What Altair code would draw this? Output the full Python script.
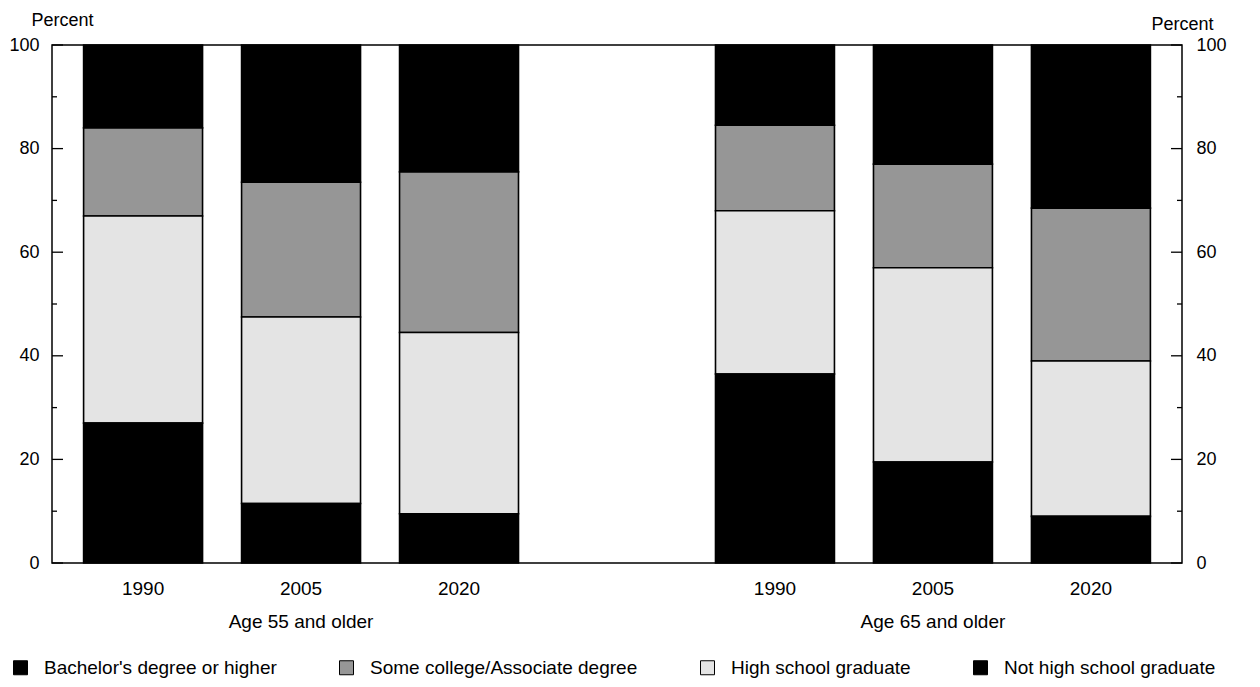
import altair as alt
import pandas as pd

# ---------------- data ----------------
groups = ["Age 55 and older", "Age 65 and older"]
years = ["1990", "2005", "2020"]
levels = [
    "Bachelor's degree or higher",
    "Some college/Associate degree",
    "High school graduate",
    "Not high school graduate",
]
# one value per bar: 55+ 1990, 2005, 2020, 65+ 1990, 2005, 2020
bachelor = [16.0, 26.5, 24.5, 15.5, 23.0, 31.5]
some_college = [17.0, 26.0, 31.0, 16.5, 20.0, 29.5]
high_school = [40.0, 36.0, 35.0, 31.5, 37.5, 30.0]
not_hs = [27.0, 11.5, 9.5, 36.5, 19.5, 9.0]

major_ticks = [0, 20, 40, 60, 80, 100]
minor_ticks = [10, 30, 50, 70, 90]

colors = ["#000000", "#969696", "#e4e4e4", "#000000"]
FONT = "Liberation Sans"

# ---------------- tables ----------------
series = [bachelor, some_college, high_school, not_hs]
keys = [f"{g}|{y}" for g in groups for y in years]
rows = []
for li, (lvl, vals) in enumerate(zip(levels, series)):
    for k, v in zip(keys, vals):
        rows.append({"slot": k, "level": lvl, "value": v,
                     "stack_idx": len(levels) - 1 - li})
df = pd.DataFrame(rows)

domain = keys[:3] + ["gap"] + keys[3:]
df_groups = pd.DataFrame({"group": groups,
                          "slot": [f"{g}|{years[1]}" for g in groups]})
df_major = pd.DataFrame({"tick": major_ticks})
df_minor = pd.DataFrame({"tick": minor_ticks})

W, H = 1130, 518

xscale = alt.Scale(domain=domain, paddingInner=0.247, paddingOuter=0.2)
yscale = alt.Scale(domain=[0, 100], nice=False, zero=True)
xaxis = alt.Axis(title=None, ticks=False, domain=False, grid=False,
                 labelExpr="datum.label == 'gap' ? '' : split(datum.label, '|')[1]",
                 labelAngle=0, labelFontSize=19, labelFont=FONT,
                 labelColor="black", labelPadding=16)

bars = alt.Chart(df).mark_bar(stroke="black", strokeWidth=1.6).encode(
    x=alt.X("slot:N", scale=xscale, sort=domain, axis=xaxis),
    y=alt.Y("value:Q", stack="zero", scale=yscale,
            axis=alt.Axis(values=major_ticks, ticks=False, domain=False, grid=False,
                          title="Percent", titleAngle=0, titleAlign="center",
                          titleX=10, titleY=-16, titleFontSize=18,
                          titleFontWeight="normal", titleFont=FONT,
                          titleColor="black", labelFontSize=18, labelFont=FONT,
                          labelColor="black", labelPadding=13)),
    color=alt.Color("level:N", scale=alt.Scale(domain=levels, range=colors),
                    legend=alt.Legend(orient="none", legendX=-41, legendY=613,
                                      direction="horizontal", columns=4,
                                      columnPadding=60, title=None,
                                      symbolType="square", symbolSize=196,
                                      symbolStrokeColor="black",
                                      symbolStrokeWidth=1, symbolOpacity=1,
                                      labelFontSize=19, labelFont=FONT,
                                      labelColor="black", labelLimit=0,
                                      labelOffset=14)),
    order=alt.Order("stack_idx:Q", sort="ascending"),
)

left_major = alt.Chart(df_major).mark_rule(color="black", strokeWidth=1.3).encode(
    y=alt.Y("tick:Q", scale=yscale, axis=None),
    x=alt.value(0), x2=alt.value(11))
left_minor = alt.Chart(df_minor).mark_rule(color="black", strokeWidth=1.3).encode(
    y=alt.Y("tick:Q", scale=yscale, axis=None),
    x=alt.value(0), x2=alt.value(5))
right_major = alt.Chart(df_major).mark_rule(color="black", strokeWidth=1.3).encode(
    y=alt.Y("tick:Q", scale=yscale,
            axis=alt.Axis(orient="right", values=major_ticks, ticks=False,
                          domain=False, grid=False, title="Percent",
                          titleAngle=0, titleAlign="center", titleX=0,
                          titleY=-12, titleFontSize=18, titleFontWeight="normal",
                          titleFont=FONT, titleColor="black",
                          labelFontSize=18, labelFont=FONT, labelColor="black",
                          labelPadding=14)),
    x=alt.value(W - 11), x2=alt.value(W))
right_minor = alt.Chart(df_minor).mark_rule(color="black", strokeWidth=1.3).encode(
    y=alt.Y("tick:Q", scale=yscale, axis=None),
    x=alt.value(W - 5), x2=alt.value(W))

group_text = alt.Chart(df_groups).mark_text(
    fontSize=19, font=FONT, color="black", baseline="middle").encode(
    x=alt.X("slot:N", scale=xscale, sort=domain, axis=xaxis),
    y=alt.value(H + 59),
    text="group:N")

chart = alt.layer(bars, left_major, left_minor, right_major, right_minor, group_text
).resolve_axis(y="independent").properties(
    width=W, height=H,
    autosize=alt.AutoSizeParams(type="none"),
    padding={"left": 44, "top": 37, "right": 70, "bottom": 116},
).configure(background="white").configure_view(stroke="black", strokeWidth=1.5)

chart.save("out.html", embed_options={"renderer": "svg", "actions": False})
